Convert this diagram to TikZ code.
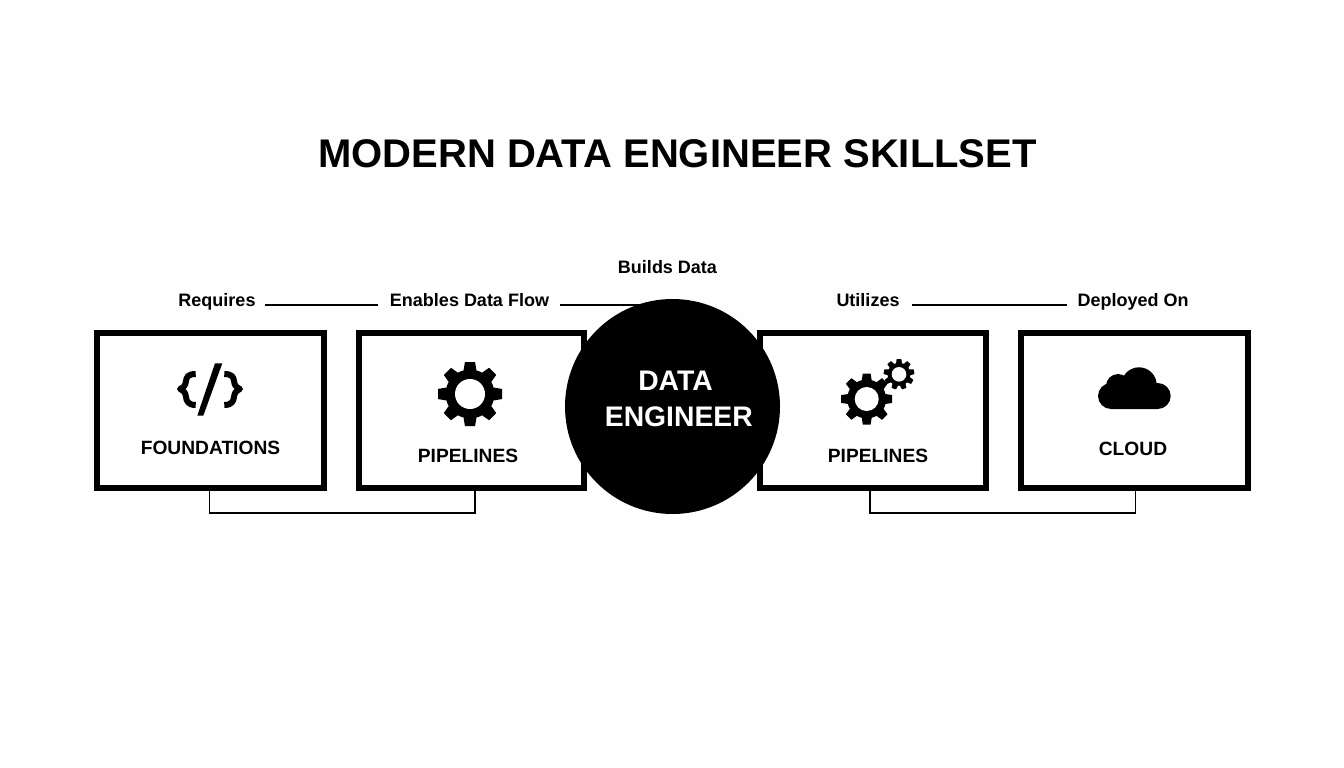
\documentclass[tikz,border=0pt]{standalone}
\usepackage{fontspec}
\setmainfont{Liberation Sans}
\newcommand{\gearpath}[7]{% cx cy router rbody rhole teeth halfwidth
  \fill[black] (#1,#2) circle[radius=#4];
  \foreach \k in {1,...,#6}{
    \pgfmathsetmacro{\ang}{(\k-1)*360/#6+90}
    \fill[black,rotate around={\ang:(#1,#2)}]
      ([shift={(#4-1,-#7)}]#1,#2) -- ([shift={(#3,-#7*0.78)}]#1,#2) -- ([shift={(#3,#7*0.78)}]#1,#2) -- ([shift={(#4-1,#7)}]#1,#2) -- cycle;
  }
  \fill[white] (#1,#2) circle[radius=#5];
}
\tikzset{
  x=1pt,y=-1pt,
  panel/.style={draw=black,fill=white,line width=6pt,minimum width=227pt,minimum height=155pt,inner sep=0pt,outer sep=0pt},
  link/.style={draw=black,line width=1.3pt},
  rule/.style={draw=black,line width=1.7pt},
  lab/.style={font=\bfseries\fontsize{18}{20}\selectfont,anchor=base,inner sep=0pt,text=black},
  boxcap/.style={font=\bfseries\fontsize{19.2}{21}\selectfont,anchor=base,inner sep=0pt,text=black},
  hubtext/.style={font=\bfseries\fontsize{28.3}{30}\selectfont,anchor=base,inner sep=0pt,text=white},
}
\begin{document}
\begin{tikzpicture}
\useasboundingbox (0,0) rectangle (1344,768);
\fill[white!99.5!black] (0,0) rectangle (1344,768);
\node[anchor=base,inner sep=0pt,font=\bfseries\fontsize{40}{44}\selectfont] (title) at (677.5,167.7) {MODERN DATA ENGINEER SKILLSET};
% top rules
\coordinate (r1a) at (265,305); \coordinate (r1b) at (378,305);
\coordinate (r2a) at (560,305); \coordinate (r2b) at (650,305);
\coordinate (r3a) at (912,304.7); \coordinate (r3b) at (1067,304.7);
\draw[rule] (r1a) -- (r1b);
\draw[rule] (r2a) -- (r2b);
\draw[rule] (r3a) -- (r3b);
% boxes
\node[panel] (b1) at (210.5,410.5) {};
\node[panel,minimum width=225pt] (b2) at (471.5,410.5) {};
\node[panel,minimum width=225.5pt] (b3) at (873,410.5) {};
\node[panel,minimum width=226.5pt] (b4) at (1134.5,410.5) {};
% connectors under boxes
\draw[link] ([xshift=-1pt]b1.south) -- ++(0,25) -| ([xshift=3.5pt]b2.south);
\draw[link] ([xshift=-3pt]b3.south) -- ++(0,25) -| ([xshift=1pt]b4.south);
% hub
\node[circle,fill=black,minimum size=215pt,inner sep=0pt] (hub) at (672.5,406.5) {};
\node[hubtext] (hubA) at (675.5,390.7) {DATA};
\node[hubtext] (hubB) at (678.8,426.7) {ENGINEER};
% labels
\node[lab] (lreq) at (217,306) {Requires};
\node[lab] (lena) at (469.5,306) {Enables Data Flow};
\node[lab] (lbui) at (667.5,273.5) {Builds Data};
\node[lab] (luti) at (868,306) {Utilizes};
\node[lab] (ldep) at (1133,306) {Deployed On};
\node[boxcap] (c1) at (210.5,454) {FOUNDATIONS};
\node[boxcap] (c2) at (468,462) {PIPELINES};
\node[boxcap] (c3) at (878,462) {PIPELINES};
\node[boxcap] (c4) at (1133,455) {CLOUD};
% code icon
\fill[black] (215,363.3) -- (222.3,363.3) -- (203.3,415.7) -- (197.3,415.7) -- cycle;
\draw[black,line width=6pt,line join=round] (195.7,374) .. controls (188,374) and (186.5,377) .. (186,381) .. controls (185.5,385) and (184,387.5) .. (180,389) .. controls (184,390.5) and (185.5,393) .. (186,397) .. controls (186.5,401) and (188,405) .. (195.7,405);
\draw[black,line width=6pt,line join=round] (224.3,374) .. controls (232,374) and (233.5,377) .. (234,381) .. controls (234.5,385) and (236,387.5) .. (240,389) .. controls (236,390.5) and (234.5,393) .. (234,397) .. controls (233.5,401) and (232,405) .. (224.3,405);
% gears
\gearpath{470}{394}{32}{24.5}{15}{8}{6.5}
\gearpath{866.7}{399}{25.5}{19.5}{12}{8}{5}
\gearpath{899}{374.3}{15.3}{11.5}{7.3}{9}{3}
% cloud
\fill[black,rounded corners=13pt] (1098,383) rectangle (1170.7,409);
\fill[black] (1139,385) circle[radius=17.7];
\fill[black] (1118,386) circle[radius=12];
\end{tikzpicture}
\end{document}
